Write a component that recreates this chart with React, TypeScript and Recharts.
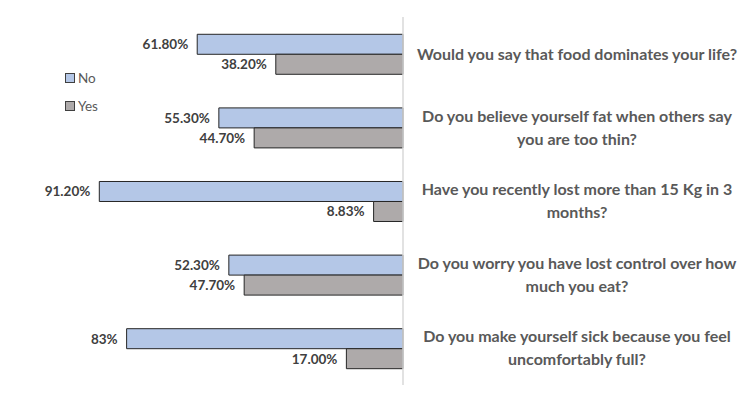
import React from 'react';
import { BarChart, Bar, XAxis, YAxis, Legend, LabelList } from 'recharts';

const categories = [
  'Would you say that food dominates your life?',
  'Do you believe yourself fat when others say you are too thin?',
  'Have you recently lost more than 15 Kg in 3 months?',
  'Do you worry you have lost control over how much you eat?',
  'Do you make yourself sick because you feel uncomfortably full?',
];
const noValues = [61.8, 55.3, 91.2, 52.3, 83];
const yesValues = [38.2, 44.7, 8.83, 47.7, 17];
const noLabels = ['61.80%', '55.30%', '91.20%', '52.30%', '83%'];
const yesLabels = ['38.20%', '44.70%', '8.83%', '47.70%', '17.00%'];
const seriesNames = ['No', 'Yes'];

const data = categories.map((q, i) => ({
  q,
  no: noValues[i],
  yes: yesValues[i],
  noLabel: noLabels[i],
  yesLabel: yesLabels[i],
}));

const W = 750;
const H = 402;
const BLUE = '#b4c7e7';
const GRAY = '#aeaaaa';
const FRAME = '#303030';
const FONT = 'Lato, "Open Sans", sans-serif';

function wrap(text: string, max: number): string[] {
  const words = text.split(' ');
  const lines: string[] = [];
  let cur = '';
  for (const w of words) {
    const next = cur ? cur + ' ' + w : w;
    if (next.length > max && cur) {
      lines.push(cur);
      cur = w;
    } else {
      cur = next;
    }
  }
  if (cur) lines.push(cur);
  return lines;
}

const CategoryTick = (props: any) => {
  const { x, y, payload } = props;
  const lines = wrap(String(payload.value), 44);
  const lh = 23;
  const cx = x + 166;
  const startY = y - ((lines.length - 1) * lh) / 2;
  return (
    <text
      textAnchor="middle"
      fill="#595959"
      fontFamily={FONT}
      fontWeight={700}
      fontSize={16}
    >
      {lines.map((l, i) => (
        <tspan key={i} x={cx} y={startY + i * lh} dy="0.36em">
          {l}
        </tspan>
      ))}
    </text>
  );
};

const ValueLabel = (props: any) => {
  const { x, y, width, height, value } = props;
  const left = Math.min(Number(x), Number(x) + Number(width));
  return (
    <text
      x={left - 9}
      y={Number(y) + Number(height) / 2}
      dy="0.36em"
      textAnchor="end"
      fill="#404040"
      fontFamily={FONT}
      fontWeight={700}
      fontSize={13.5}
    >
      {value}
    </text>
  );
};

const LegendContent = () => {
  const colors = [BLUE, GRAY];
  return (
    <div style={{ fontFamily: FONT, fontSize: 13.5, color: '#595959' }}>
      {seriesNames.map((n, i) => (
        <div key={n} style={{ display: 'flex', alignItems: 'center', height: 28 }}>
          <span
            style={{
              display: 'inline-block',
              width: 8,
              height: 8,
              background: colors[i],
              border: '1px solid #404040',
              marginRight: 3,
            }}
          />
          <span>{n}</span>
        </div>
      ))}
    </div>
  );
};

export default function App() {
  return (
    <div
      style={{
        position: 'relative',
        width: W,
        height: H,
        margin: -8,
        background: '#fff',
      }}
    >
      <BarChart
        width={W}
        height={H}
        data={data}
        layout="vertical"
        margin={{ top: 17, right: 0, bottom: 17, left: 70 }}
        barCategoryGap="23.5%"
        barGap={0}
      >
        <XAxis type="number" domain={[0, 100]} reversed hide />
        <YAxis
          type="category"
          dataKey="q"
          orientation="right"
          width={347}
          axisLine={{ stroke: '#d9d9d9', strokeWidth: 1.5 }}
          tickLine={false}
          tick={<CategoryTick />}
          interval={0}
        />
        <Legend
          layout="horizontal"
          verticalAlign="middle"
          align="center"
          content={<LegendContent />}
          wrapperStyle={{ position: 'absolute', left: 65, top: 64, width: 'auto', height: 'auto' }}
        />
        <Bar dataKey="no" name="No" fill={BLUE} stroke="#262626" strokeWidth={1} isAnimationActive={false}>
          <LabelList dataKey="noLabel" content={<ValueLabel />} />
        </Bar>
        <Bar dataKey="yes" name="Yes" fill={GRAY} stroke="#262626" strokeWidth={1} isAnimationActive={false}>
          <LabelList dataKey="yesLabel" content={<ValueLabel />} />
        </Bar>
        <rect x={0} y={0} width={W} height={2} fill={FRAME} />
        <rect x={0} y={H - 2} width={W} height={2} fill={FRAME} />
        <rect x={0} y={0} width={2} height={H} fill={FRAME} />
        <rect x={W - 2} y={0} width={2} height={H} fill={FRAME} />
      </BarChart>
    </div>
  );
}
